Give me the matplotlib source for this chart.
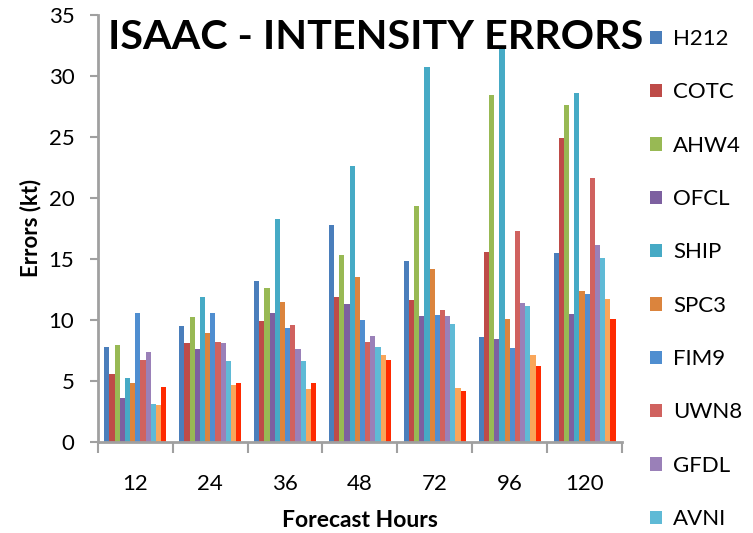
import numpy as np
from matplotlib import pyplot as plt
from matplotlib.patches import Patch

hours = ["12", "24", "36", "48", "72", "96", "120"]

# model names; the last two series have no entry in the legend
models = ["H212", "COTC", "AHW4", "OFCL", "SHIP", "SPC3",
          "FIM9", "UWN8", "GFDL", "AVNI", "EXT1", "EXT2"]

h212 = [7.8, 9.5, 13.2, 17.8, 14.8, 8.6, 15.5]
cotc = [5.6, 8.1, 9.9, 11.9, 11.6, 15.6, 24.9]
ahw4 = [7.9, 10.2, 12.6, 15.3, 19.3, 28.4, 27.6]
ofcl = [3.6, 7.6, 10.6, 11.3, 10.3, 8.4, 10.5]
ship = [5.2, 11.9, 18.3, 22.6, 30.7, 32.3, 28.6]
spc3 = [4.8, 8.9, 11.5, 13.5, 14.2, 10.1, 12.4]
fim9 = [10.6, 10.6, 9.3, 10.0, 10.4, 7.7, 12.1]
uwn8 = [6.7, 8.2, 9.6, 8.2, 10.8, 17.3, 21.6]
gfdl = [7.4, 8.1, 7.6, 8.7, 10.3, 11.4, 16.1]
avni = [3.1, 6.6, 6.6, 7.8, 9.7, 11.1, 15.1]
ext1 = [3.0, 4.7, 4.3, 7.1, 4.4, 7.1, 11.7]
ext2 = [4.5, 4.8, 4.8, 6.7, 4.2, 6.2, 10.1]

series = [h212, cotc, ahw4, ofcl, ship, spc3, fim9, uwn8, gfdl, avni, ext1, ext2]
colors = ["#4A7EBB", "#BE4B48", "#98B954", "#7D60A0", "#46AAC5", "#DB843D",
          "#4F8ED0", "#D0625F", "#9A80B8", "#5FBAD6", "#F9A65A", "#FF2A00"]

plt.rcParams['font.family'] = ['Lato', 'DejaVu Sans']

fig = plt.figure(figsize=(7.53, 5.33), dpi=100)
ax = fig.add_axes([0.130, 0.171, 0.696, 0.801])

x = np.arange(len(hours))
width = 0.069
n = len(series)
for i, (vals, col) in enumerate(zip(series, colors)):
    offset = (i - (n - 1) / 2) * width
    ax.bar(x + offset, vals, width, color=col, edgecolor="none")

ax.set_xlim(-0.5, len(hours) - 0.5)
ax.set_ylim(0, 35)
ax.set_yticks(range(0, 36, 5))

# category labels at group centres, tick marks between groups
ax.set_xticks(x)
ax.set_xticklabels(hours)
ax.set_xticks(np.arange(-0.5, len(hours)), minor=True)
ax.tick_params(axis="x", which="major", length=0, pad=23, labelsize=16)
ax.tick_params(axis="x", which="minor", length=8, width=1.5, color="#A0A0A0")
ax.tick_params(axis="y", length=6, width=1.5, color="#A0A0A0", labelsize=16, pad=11)

for side in ["top", "right"]:
    ax.spines[side].set_visible(False)
for side in ["left", "bottom"]:
    ax.spines[side].set_color("#A0A0A0")
    ax.spines[side].set_linewidth(2)

ax.set_ylabel("Errors (kt)", fontsize=16, fontweight="bold", labelpad=5)
ax.set_xlabel("Forecast Hours", fontsize=16.5, fontweight="bold", labelpad=12)

fig.text(0.143, 0.930, "ISAAC - INTENSITY ERRORS", fontsize=29.7, fontweight="bold",
         va="center", ha="left")

handles = [Patch(facecolor=c) for c in colors[:10]]
fig.legend(handles, models[:10], loc="upper left", bbox_to_anchor=(0.851, 0.962),
           frameon=False, fontsize=16, handlelength=0.55, handleheight=0.55,
           handletextpad=0.5, labelspacing=1.5, borderaxespad=0)

fig.savefig("out.png", dpi=100)
plt.close(fig)
